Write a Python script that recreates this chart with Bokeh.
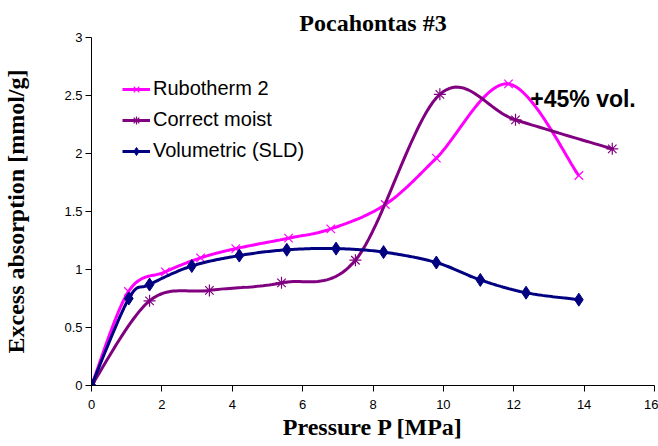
from bokeh.plotting import figure
from bokeh.models import Legend, LegendItem, Label, FixedTicker
from bokeh.embed import file_html
from bokeh.resources import INLINE

# Excess adsorption isotherms, Pocahontas #3
rub_p = [0, 1.05, 2.1, 3.1, 4.1, 5.6, 6.8, 8.35, 9.8, 11.85, 13.85]
rub_a = [0, 0.81, 0.98, 1.10, 1.18, 1.27, 1.35, 1.56, 1.96, 2.60, 1.81]

moist_p = [0, 1.65, 3.35, 5.4, 7.5, 9.9, 12.05, 14.8]
moist_a = [0, 0.73, 0.82, 0.885, 1.08, 2.51, 2.29, 2.04]

vol_p = [0, 1.06, 1.65, 2.85, 4.2, 5.55, 6.95, 8.3, 9.8, 11.05, 12.35, 13.85]
vol_a = [0, 0.75, 0.87, 1.03, 1.12, 1.17, 1.18, 1.15, 1.06, 0.91, 0.80, 0.74]

x_ticks = [0, 2, 4, 6, 8, 10, 12, 14, 16]
y_ticks = [0, 0.5, 1, 1.5, 2, 2.5, 3]
y_tick_labels = ["0", "0.5", "1", "1.5", "2", "2.5", "3"]


def smooth(xs, ys, steps=24):
    """Catmull-Rom curve through the points, drawn as cubic Bezier segments."""
    n = len(xs)
    out_x, out_y = [xs[0]], [ys[0]]
    for i in range(n - 1):
        x0, y0 = (xs[i - 1], ys[i - 1]) if i > 0 else (xs[i], ys[i])
        x1, y1 = xs[i], ys[i]
        x2, y2 = xs[i + 1], ys[i + 1]
        x3, y3 = (xs[i + 2], ys[i + 2]) if i + 2 < n else (x2, y2)
        c1x, c1y = x1 + (x2 - x0) / 6, y1 + (y2 - y0) / 6
        c2x, c2y = x2 - (x3 - x1) / 6, y2 - (y3 - y1) / 6
        for k in range(1, steps + 1):
            t = k / steps
            u = 1 - t
            out_x.append(u**3 * x1 + 3 * u * u * t * c1x + 3 * u * t * t * c2x + t**3 * x2)
            out_y.append(u**3 * y1 + 3 * u * u * t * c1y + 3 * u * t * t * c2y + t**3 * y2)
    return out_x, out_y


SANS = "Liberation Sans"
SERIF = "Liberation Serif"

p = figure(width=658, height=446, x_range=(0, 16), y_range=(0, 3),
           output_backend="svg", toolbar_location=None,
           min_border_left=91, min_border_right=4,
           min_border_top=37, min_border_bottom=61,
           title="Pocahontas #3")
p.outline_line_color = None
p.background_fill_color = "white"
p.border_fill_color = "white"
p.grid.visible = False

p.title.align = "center"
p.title.vertical_align = "top"
p.title.offset = 3
p.title.text_font = SERIF
p.title.text_font_size = "24px"
p.title.text_font_style = "bold"
p.title.text_color = "black"
p.title.standoff = 0

p.xaxis.ticker = FixedTicker(ticks=x_ticks)
p.yaxis.ticker = FixedTicker(ticks=y_ticks)
p.yaxis.major_label_overrides = dict(zip(y_ticks, y_tick_labels))
p.xaxis.axis_label = "Pressure P [MPa]"
p.yaxis.axis_label = "Excess absorption [mmol/g]"
for ax in (p.xaxis[0], p.yaxis[0]):
    ax.axis_label_text_font = SERIF
    ax.axis_label_text_font_size = "24px"
    ax.axis_label_text_font_style = "bold"
    ax.axis_label_text_color = "black"
    ax.major_label_text_font = SANS
    ax.major_label_text_font_size = "13px"
    ax.major_label_text_color = "black"
    ax.major_tick_out = 6
    ax.major_tick_in = 0
    ax.minor_tick_out = 0
    ax.minor_tick_in = 0
    ax.axis_line_color = "#000000"
    ax.major_tick_line_color = "#000000"
p.xaxis.major_label_standoff = 8
p.xaxis.axis_label_standoff = 2
p.yaxis.major_label_standoff = 3
p.yaxis.axis_label_standoff = 32

MAG = "#FF00FF"
PUR = "#800080"
NAVY = "#000080"

rx, ry = smooth(rub_p, rub_a)
mx, my = smooth(moist_p, moist_a)
vx, vy = smooth(vol_p, vol_a)

r_line = p.line(rx, ry, line_color=MAG, line_width=3)
r_pts = p.scatter(rub_p, rub_a, marker="x", size=12, line_color=MAG, line_width=1.2)
m_line = p.line(mx, my, line_color=PUR, line_width=3)
m_pts = p.scatter(moist_p, moist_a, marker="asterisk", size=12, line_color=PUR, line_width=1.2)
v_line = p.line(vx, vy, line_color=NAVY, line_width=3)
v_pts = p.scatter(vol_p, vol_a, marker="diamond", size=13, line_color=NAVY, fill_color=NAVY)

legend = Legend(items=[
    LegendItem(label="Rubotherm 2", renderers=[r_line, r_pts]),
    LegendItem(label="Correct moist", renderers=[m_line, m_pts]),
    LegendItem(label="Volumetric (SLD)", renderers=[v_line, v_pts]),
], location=(31, 223))
legend.border_line_color = None
legend.background_fill_alpha = 0
legend.padding = 0
legend.margin = 0
legend.spacing = 8
legend.glyph_width = 28
legend.glyph_height = 20
legend.label_height = 20
legend.label_standoff = 3
legend.label_text_font = SANS
legend.label_text_font_size = "20px"
legend.label_text_color = "black"
p.add_layout(legend)

p.add_layout(Label(x=12.47, y=2.47, text="+45% vol.", text_font=SANS,
                   text_font_size="23px", text_font_style="bold",
                   text_baseline="alphabetic", text_color="black"))

open("out.html", "w").write(file_html(p, INLINE))
